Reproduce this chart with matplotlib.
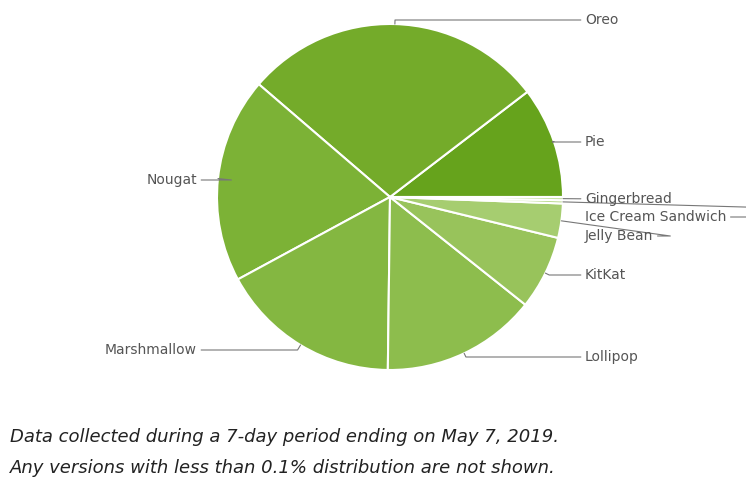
import matplotlib
matplotlib.use("Agg")
import matplotlib.pyplot as plt
import numpy as np

versions = ['Pie', 'Oreo', 'Nougat', 'Marshmallow', 'Lollipop', 'KitKat',
            'Jelly Bean', 'Ice Cream Sandwich', 'Gingerbread']
shares = [10.4, 28.3, 19.2, 16.9, 14.5, 6.9, 3.2, 0.3, 0.3]
colors = ['#66a31c', '#74ab2a', '#7cb236', '#84b741', '#8dbd4d', '#98c35b',
          '#a6cd70', '#b8d98a', '#c8e2a4']
# label positions in figure pixels (from top)
label_pos = [(585, 142), (585, 20), (197, 180), (197, 350), (585, 357),
             (585, 275), (585, 236), (585, 217), (585, 199)]

W, H = 746, 492
fig = plt.figure(figsize=(W / 100, H / 100), dpi=100)
cx, cy, r = 390, 197, 173
ax = fig.add_axes([(cx - r) / W, (H - cy - r) / H, 2 * r / W, 2 * r / H])
wedges, _ = ax.pie(shares, colors=colors, startangle=0, counterclock=True,
                   wedgeprops=dict(edgecolor='white', linewidth=1.5))
ax.set_xlim(-1, 1)
ax.set_ylim(-1, 1)
ax.set_aspect('equal')

for w, name, (lx, ly) in zip(wedges, versions, label_pos):
    ang = (w.theta1 + w.theta2) / 2
    x = np.cos(np.deg2rad(ang))
    y = np.sin(np.deg2rad(ang))
    left = lx < cx
    ax.annotate(name, xy=(x, y), xycoords='data',
                xytext=(lx, H - ly), textcoords='figure pixels',
                ha='right' if left else 'left', va='center',
                fontsize=10, color='#555555',
                arrowprops=dict(arrowstyle='-', color='#777777', lw=0.8,
                                shrinkA=1, shrinkB=0,
                                connectionstyle='angle,angleA=0,angleB={}'.format(ang)))

fig.text(10 / W, 1 - 437 / H, 'Data collected during a 7-day period ending on May 7, 2019.',
         fontsize=13, style='italic', color='#222222', va='center')
fig.text(10 / W, 1 - 468 / H, 'Any versions with less than 0.1% distribution are not shown.',
         fontsize=13, style='italic', color='#222222', va='center')

fig.savefig('out.png', dpi=100)
